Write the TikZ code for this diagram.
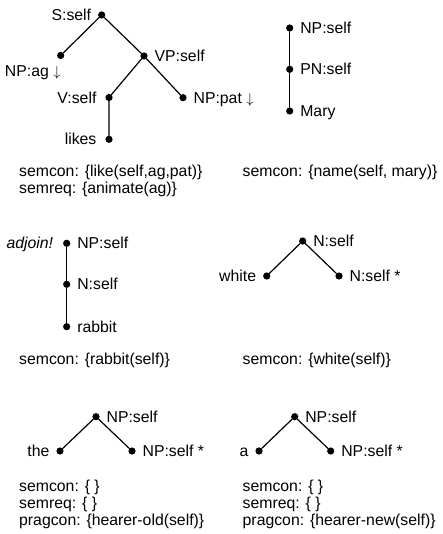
\documentclass[tikz,border=0pt]{standalone}
\usepackage{fontspec}
\setmainfont{Liberation Sans}
\usetikzlibrary{positioning}

\begin{document}
\begin{tikzpicture}[x=1pt,y=-1pt,line cap=round,line join=round,
  dot/.style={circle,fill,inner sep=0pt,minimum size=7.2pt},
  lbl/.style={inner sep=0pt,text height=11.2pt,text depth=0pt},
  txt/.style={inner sep=0pt,anchor=base west},
  edge/.style={line width=1.2pt},
  node distance=6.6pt,
  font=\fontsize{15.8}{16.7}\selectfont]
  \useasboundingbox (0,0) rectangle (442,534);

  % likes
  \node[dot] (s) at (101.7,15) {};
  \node[dot] (ag) at (60.7,55.5) {};
  \node[dot] (vp) at (144,56) {};
  \node[dot] (v) at (109,97.5) {};
  \node[dot] (pat) at (183,97.7) {};
  \node[dot] (likes) at (109,139.3) {};
  \draw[edge] (ag) -- (s) -- (vp) -- (pat);
  \draw[edge] (vp) -- (v) -- (likes);
  \node[lbl,left=of s] {S:self};
  \node[lbl,below=6pt of ag,anchor=north east] {NP:ag $\downarrow$};
  \node[lbl,right=of vp] {VP:self};
  \node[lbl,left=8.6pt of v] {V:self};
  \node[lbl,right=of pat] {NP:pat $\downarrow$};
  \node[lbl,left=8.6pt of likes] {likes};
  \node[txt] (semcon1) at (19,176.7) {semcon: \{like(self,ag,pat)\}};
  \node[txt] at ([yshift=-16.7pt]semcon1.base west) {semreq: \{animate(ag)\}};

  % Mary
  \node[dot] (np2) at (289.7,28) {};
  \node[dot] (pn2) at (289.7,69.3) {};
  \node[dot] (mary) at (289.7,111) {};
  \draw[edge] (np2) -- (pn2) -- (mary);
  \node[lbl,right=of np2] {NP:self};
  \node[lbl,right=of pn2] {PN:self};
  \node[lbl,right=of mary] {Mary};
  \node[txt] at (242.5,176.7) {semcon: \{name(self, mary)\}};

  % rabbit
  \node[dot] (np3) at (66.7,243.3) {};
  \node[dot] (n3) at (66.7,284.3) {};
  \node[dot] (rabbit) at (66.7,326.7) {};
  \draw[edge] (np3) -- (n3) -- (rabbit);
  \node[lbl,left=9.6pt of np3] {\itshape adjoin!};
  \node[lbl,right=of np3] {NP:self};
  \node[lbl,right=of n3] {N:self};
  \node[lbl,right=of rabbit] {rabbit};
  \node[txt] at (19,364) {semcon: \{rabbit(self)\}};

  % white
  \node[dot] (n4) at (302.7,241) {};
  \node[dot] (white) at (266.7,276) {};
  \node[dot] (nfoot) at (339,276) {};
  \draw[edge] (white) -- (n4) -- (nfoot);
  \node[lbl,right=of n4] {N:self};
  \node[lbl,left=of white] {white};
  \node[lbl,right=of nfoot] {N:self *};
  \node[txt] at (242.5,364) {semcon: \{white(self)\}};

  % the
  \node[dot] (np5) at (96,416.7) {};
  \node[dot] (the) at (60,451) {};
  \node[dot] (npfoot5) at (132,451) {};
  \draw[edge] (the) -- (np5) -- (npfoot5);
  \node[lbl,right=of np5] {NP:self};
  \node[lbl,left=of the] {the};
  \node[lbl,right=of npfoot5] {NP:self *};
  \node[txt] (semcon5) at (19,491.7) {semcon: \{ \}};
  \node[txt] (semreq5) at ([yshift=-16.7pt]semcon5.base west) {semreq: \{ \}};
  \node[txt] at ([yshift=-16.7pt]semreq5.base west) {pragcon: \{hearer-old(self)\}};

  % a
  \node[dot] (np6) at (294.7,416.7) {};
  \node[dot] (a) at (259,451) {};
  \node[dot] (npfoot6) at (330.7,451) {};
  \draw[edge] (a) -- (np6) -- (npfoot6);
  \node[lbl,right=of np6] {NP:self};
  \node[lbl,left=of a] {a};
  \node[lbl,right=of npfoot6] {NP:self *};
  \node[txt] (semcon6) at (242.5,491.7) {semcon: \{ \}};
  \node[txt] (semreq6) at ([yshift=-16.7pt]semcon6.base west) {semreq: \{ \}};
  \node[txt] at ([yshift=-16.7pt]semreq6.base west) {pragcon: \{hearer-new(self)\}};
\end{tikzpicture}
\end{document}
